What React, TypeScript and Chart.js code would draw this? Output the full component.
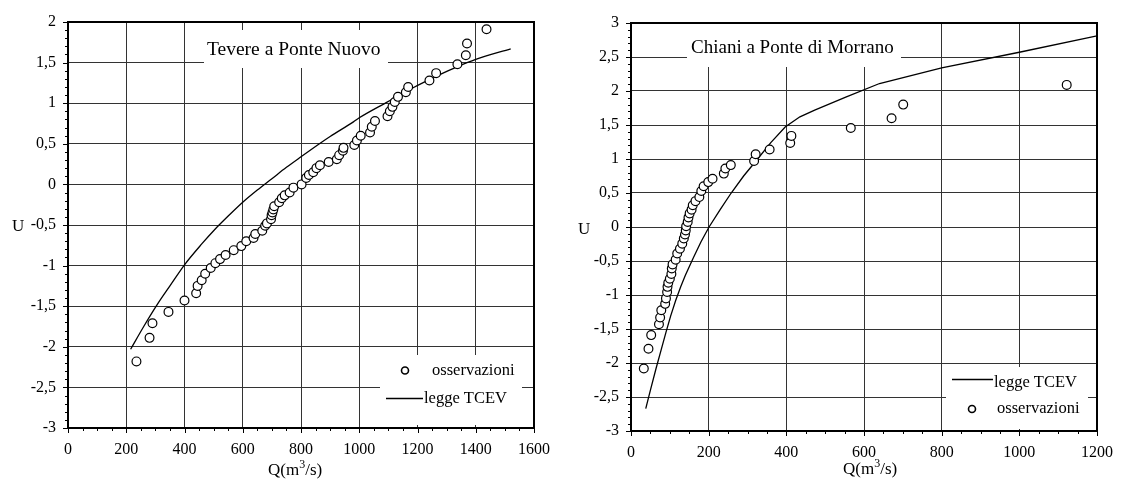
import { useEffect, useRef } from 'react';
import { Chart, registerables } from 'chart.js';

Chart.register(...registerables);

const FONT = '"Liberation Serif", "Times New Roman", serif';

// ---------- Tevere a Ponte Nuovo ----------
const tevereTitle = 'Tevere a Ponte Nuovo';
const tevereObsQ = [235, 280, 290, 345, 400, 440, 445, 459, 471, 490, 506, 522, 541, 569, 595, 612, 637, 643, 667, 677, 683, 697, 699, 702, 705, 708, 725, 734, 744, 761, 774, 802, 818, 827, 842, 853, 865, 895, 923, 931, 944, 946, 983, 992, 1005, 1037, 1043, 1054, 1097, 1105, 1114, 1122, 1133, 1160, 1168, 1241, 1264, 1337, 1366, 1370, 1437];
const tevereObsU = [-2.18, -1.89, -1.71, -1.57, -1.43, -1.34, -1.25, -1.18, -1.10, -1.03, -0.97, -0.92, -0.87, -0.81, -0.76, -0.70, -0.66, -0.61, -0.57, -0.51, -0.48, -0.43, -0.38, -0.345, -0.31, -0.27, -0.22, -0.17, -0.135, -0.10, -0.04, 0.0, 0.08, 0.115, 0.15, 0.20, 0.235, 0.275, 0.31, 0.36, 0.415, 0.45, 0.485, 0.54, 0.60, 0.64, 0.71, 0.78, 0.84, 0.90, 0.955, 1.015, 1.078, 1.135, 1.20, 1.28, 1.37, 1.48, 1.59, 1.735, 1.91];
const tevereTcevQ = [215, 260, 310, 350, 400, 460, 500, 550, 600, 650, 700, 750, 800, 867, 900, 980, 1000, 1094, 1185, 1264, 1337, 1400, 1520];
const tevereTcevU = [-2.03, -1.75, -1.46, -1.25, -0.99, -0.73, -0.57, -0.39, -0.22, -0.07, 0.07, 0.21, 0.34, 0.51, 0.59, 0.77, 0.82, 1.01, 1.19, 1.33, 1.45, 1.54, 1.67];
const tevereXMin = 0, tevereXMax = 1600, tevereXStep = 200;
const tevereYMin = -3, tevereYMax = 2, tevereYStep = 0.5;

// ---------- Chiani a Ponte di Morrano ----------
const chianiTitle = 'Chiani a Ponte di Morrano';
const chianiObsQ = [33, 45, 52, 72, 75, 78, 88, 90, 93, 94, 96, 100, 104, 105, 107, 115, 119, 126, 132, 136, 139, 141, 142, 146, 148, 151, 156, 159, 166, 176, 181, 187, 199, 210, 239, 243, 257, 317, 321, 357, 410, 413, 566, 671, 701, 1122];
const chianiObsU = [-2.08, -1.79, -1.59, -1.43, -1.33, -1.225, -1.13, -1.05, -0.955, -0.88, -0.82, -0.76, -0.69, -0.61, -0.55, -0.48, -0.39, -0.32, -0.245, -0.17, -0.11, -0.05, 0.01, 0.075, 0.14, 0.20, 0.255, 0.32, 0.38, 0.44, 0.53, 0.60, 0.66, 0.71, 0.785, 0.86, 0.91, 0.97, 1.07, 1.14, 1.235, 1.34, 1.456, 1.60, 1.80, 2.09];
const chianiTcevQ = [38, 50, 65, 78, 90, 102, 115, 128, 140, 160, 180, 201, 230, 258, 290, 326, 360, 397, 435, 473, 553, 640, 800, 1000, 1200];
const chianiTcevU = [-2.67, -2.4, -2.07, -1.8, -1.55, -1.31, -1.08, -0.88, -0.71, -0.46, -0.22, 0.0, 0.26, 0.5, 0.75, 1.0, 1.24, 1.47, 1.62, 1.72, 1.91, 2.11, 2.34, 2.57, 2.81];
const chianiXMin = 0, chianiXMax = 1200, chianiXStep = 200;
const chianiYMin = -3, chianiYMax = 3, chianiYStep = 0.5;

const legendObs = 'osservazioni';
const legendTcev = 'legge TCEV';
const xTitle = ['Q(m', '3', '/s)'];
const yTitle = 'U';

const zip = (xs: number[], ys: number[]) => xs.map((x, i) => ({ x, y: ys[i] }));

const decor = {
  id: 'decor',
  beforeDatasetsDraw(chart: any, _a: any, o: any) {
    const ctx = chart.ctx;
    ctx.save();
    ctx.fillStyle = '#fff';
    for (const b of o.boxes) ctx.fillRect(b[0], b[1], b[2], b[3]);
    ctx.restore();
  },
  afterDraw(chart: any, _a: any, o: any) {
    const { ctx, chartArea: ca, scales } = chart;
    const xs = scales.x, ys = scales.y;
    ctx.save();
    ctx.strokeStyle = '#000';
    ctx.lineWidth = 1;
    const nx = Math.round((xs.max - xs.min) / o.xMinor);
    for (let i = 0; i <= nx; i++) {
      const v = xs.min + i * o.xMinor;
      const px = Math.round(xs.getPixelForValue(v)) + 0.5;
      const major = Math.abs(v / o.xMajor - Math.round(v / o.xMajor)) < 1e-6;
      ctx.beginPath();
      ctx.moveTo(px, ca.bottom);
      ctx.lineTo(px, ca.bottom + (major ? 5 : 3));
      ctx.stroke();
    }
    const ny = Math.round((ys.max - ys.min) / o.yMinor);
    for (let i = 0; i <= ny; i++) {
      const v = ys.min + i * o.yMinor;
      const py = Math.round(ys.getPixelForValue(v)) + 0.5;
      const major = Math.abs(v / o.yMajor - Math.round(v / o.yMajor)) < 1e-6;
      ctx.beginPath();
      ctx.moveTo(ca.left, py);
      ctx.lineTo(ca.left - (major ? 5 : 3), py);
      ctx.stroke();
    }
    ctx.lineWidth = 2;
    ctx.strokeRect(ca.left, ca.top, ca.right - ca.left, ca.bottom - ca.top);

    ctx.fillStyle = '#000';
    ctx.textBaseline = 'alphabetic';
    ctx.textAlign = 'left';
    ctx.font = `${o.titleSize}px ${FONT}`;
    ctx.fillText(o.title, o.titleX, o.titleY);
    let cx = o.qX;
    ctx.font = `17px ${FONT}`;
    ctx.fillText(xTitle[0], cx, o.qY);
    cx += ctx.measureText(xTitle[0]).width;
    ctx.font = `12px ${FONT}`;
    ctx.fillText(xTitle[1], cx, o.qY - 7);
    cx += ctx.measureText(xTitle[1]).width;
    ctx.font = `17px ${FONT}`;
    ctx.fillText(xTitle[2], cx, o.qY);
    ctx.fillText(yTitle, o.uX, o.uY);

    ctx.font = `16.5px ${FONT}`;
    for (const r of o.legend) {
      if (r.kind === 'obs') {
        ctx.beginPath();
        ctx.lineWidth = 1.6;
        ctx.arc(r.mx, r.my, 3.5, 0, Math.PI * 2);
        ctx.fillStyle = '#fff';
        ctx.fill();
        ctx.stroke();
        ctx.fillStyle = '#000';
        ctx.fillText(legendObs, r.tx, r.ty);
      } else {
        ctx.beginPath();
        ctx.lineWidth = 1.3;
        ctx.moveTo(r.x1, r.my);
        ctx.lineTo(r.x2, r.my);
        ctx.stroke();
        ctx.fillText(legendTcev, r.tx, r.ty);
      }
    }
    ctx.restore();
  },
};

function makeConfig(p: any): any {
  return {
    type: 'scatter',
    data: {
      datasets: [
        {
          label: legendObs,
          data: zip(p.obsQ, p.obsU),
          pointStyle: 'circle',
          pointRadius: 4.4,
          pointBorderWidth: 1.2,
          pointBackgroundColor: '#fff',
          pointBorderColor: '#000',
          showLine: false,
        },
        {
          label: legendTcev,
          data: zip(p.tcevQ, p.tcevU),
          showLine: true,
          pointRadius: 0,
          borderColor: '#000',
          borderWidth: 1.3,
          cubicInterpolationMode: p.smooth ? 'monotone' : 'default',
          tension: 0,
          fill: false,
        },
      ],
    },
    options: {
      responsive: false,
      animation: false,
      events: [],
      layout: { padding: { left: 0, right: p.padRight, top: p.padTop, bottom: 0 } },
      plugins: {
        legend: { display: false },
        tooltip: { enabled: false },
        decor: p.decor,
      },
      scales: {
        x: {
          type: 'linear',
          min: p.xMin,
          max: p.xMax,
          afterFit: (s: any) => { s.height = p.xAxisH; },
          ticks: {
            stepSize: p.xStep,
            autoSkip: false,
            maxRotation: 0,
            color: '#000',
            padding: 12,
            font: { family: FONT, size: 16 },
            callback: (v: any) => String(v),
          },
          grid: { color: '#333', lineWidth: 1, drawTicks: false },
          border: { display: false },
        },
        y: {
          type: 'linear',
          min: p.yMin,
          max: p.yMax,
          afterFit: (s: any) => { s.width = p.yAxisW; },
          ticks: {
            stepSize: p.yStep,
            autoSkip: false,
            color: '#000',
            padding: 12,
            font: { family: FONT, size: 16 },
            callback: (v: any) => String(v).replace('.', ','),
          },
          grid: { color: '#333', lineWidth: 1, drawTicks: false },
          border: { display: false },
        },
      },
    },
    plugins: [decor],
  };
}

function ChartCanvas({ cfg, width, height }: { cfg: any; width: number; height: number }) {
  const ref = useRef<HTMLCanvasElement | null>(null);
  useEffect(() => {
    if (!ref.current) return;
    const c = new Chart(ref.current, cfg);
    return () => c.destroy();
  }, [cfg]);
  return <canvas ref={ref} width={width} height={height} style={{ display: 'block', width, height }} />;
}

const leftCfg = makeConfig({
  obsQ: tevereObsQ, obsU: tevereObsU, tcevQ: tevereTcevQ, tcevU: tevereTcevU, smooth: true,
  xMin: tevereXMin, xMax: tevereXMax, xStep: tevereXStep,
  yMin: tevereYMin, yMax: tevereYMax, yStep: tevereYStep,
  padRight: 23, padTop: 22, xAxisH: 60, yAxisW: 68,
  decor: {
    xMinor: 50, xMajor: 200, yMinor: 0.1, yMajor: 0.5,
    boxes: [[204, 30, 184, 38], [380, 355, 142, 70]],
    title: tevereTitle, titleSize: 19.5, titleX: 207, titleY: 55,
    qX: 268, qY: 475, uX: 12, uY: 231,
    legend: [
      { kind: 'obs', mx: 405, my: 370.5, tx: 432, ty: 375 },
      { kind: 'line', x1: 386, x2: 423, my: 398.5, tx: 424, ty: 403 },
    ],
  },
});

const rightCfg = makeConfig({
  obsQ: chianiObsQ, obsU: chianiObsU, tcevQ: chianiTcevQ, tcevU: chianiTcevU, smooth: false,
  xMin: chianiXMin, xMax: chianiXMax, xStep: chianiXStep,
  yMin: chianiYMin, yMax: chianiYMax, yStep: chianiYStep,
  padRight: 19, padTop: 23, xAxisH: 57, yAxisW: 69,
  decor: {
    xMinor: 50, xMajor: 200, yMinor: 0.1, yMajor: 0.5,
    boxes: [[125, 24, 214, 43], [384, 367, 142, 62]],
    title: chianiTitle, titleSize: 19, titleX: 129, titleY: 53,
    qX: 281, qY: 474, uX: 16, uY: 234,
    legend: [
      { kind: 'line', x1: 390, x2: 431, my: 379.5, tx: 432, ty: 387 },
      { kind: 'obs', mx: 410, my: 409, tx: 435, ty: 413 },
    ],
  },
});

export default function App() {
  return (
    <div style={{ position: 'fixed', left: 0, top: 0, width: 1125, height: 488, background: '#fff' }}>
      <div style={{ position: 'absolute', left: 0, top: 0 }}>
        <ChartCanvas cfg={leftCfg} width={562} height={488} />
      </div>
      <div style={{ position: 'absolute', left: 562, top: 0 }}>
        <ChartCanvas cfg={rightCfg} width={563} height={488} />
      </div>
    </div>
  );
}
